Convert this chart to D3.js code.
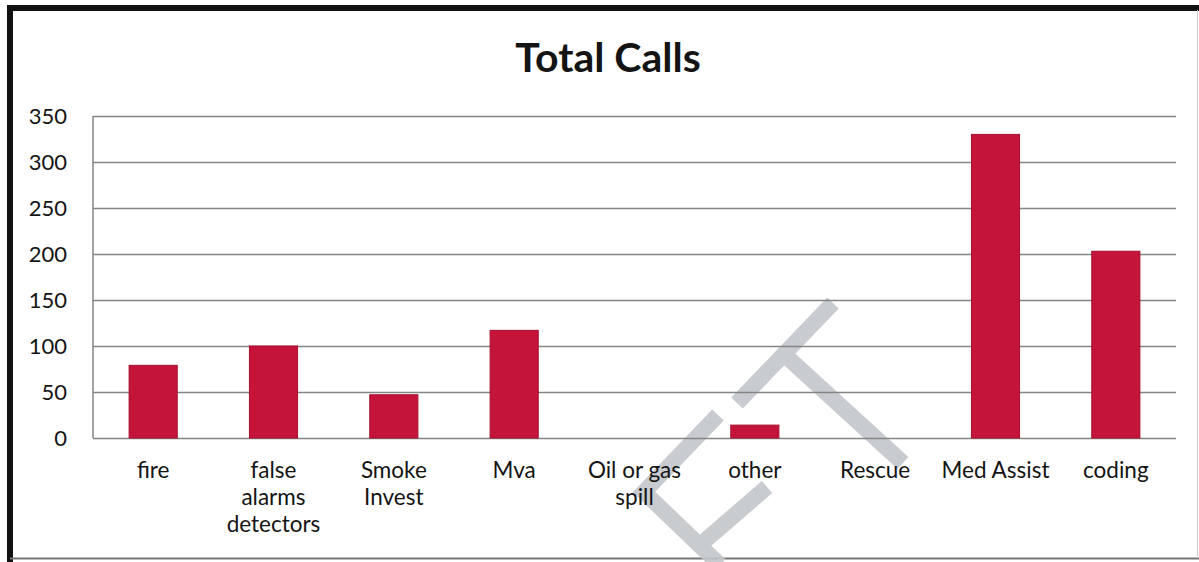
<!DOCTYPE html>
<html><head><meta charset="utf-8">
<script src="https://cdn.jsdelivr.net/npm/d3@7"></script>
<style>html,body{margin:0;padding:0;background:#fff;}svg{display:block;}</style>
</head><body>
<svg id="c" width="1199" height="562"></svg>
<script>
const categories = ["fire","false alarms detectors","Smoke Invest","Mva","Oil or gas spill","other","Rescue","Med Assist","coding"];
const labelLines = [["fire"],["false","alarms","detectors"],["Smoke","Invest"],["Mva"],["Oil or gas","spill"],["other"],["Rescue"],["Med Assist"],["coding"]];
const values = [79, 100, 47, 117, 0, 14, 0, 330, 203];
const yTicks = [0,50,100,150,200,250,300,350];
const title = "Total Calls";

const svg = d3.select("#c");
const W = 1199, H = 562;
const m = {left: 93, right: 1176, top: 116, bottom: 438};
const font = "Lato, 'Open Sans', sans-serif";

const x = d3.scaleBand().domain(categories).range([m.left, m.right]).paddingInner(0.6).paddingOuter(0.3);
const y = d3.scaleLinear().domain([0, 350]).range([m.bottom, m.top]);

// frame
svg.append("rect").attr("x",0).attr("y",0).attr("width",W).attr("height",H).attr("fill","#fff");
svg.append("line").attr("x1",7).attr("x2",W).attr("y1",8).attr("y2",8).attr("stroke","#111").attr("stroke-width",6);
svg.append("line").attr("x1",10).attr("x2",10).attr("y1",5).attr("y2",H).attr("stroke","#111").attr("stroke-width",6);
svg.append("line").attr("x1",10).attr("x2",W).attr("y1",558.5).attr("y2",558.5).attr("stroke","#777").attr("stroke-width",2);
svg.append("line").attr("x1",1197.5).attr("x2",1197.5).attr("y1",10).attr("y2",558).attr("stroke","#ccc").attr("stroke-width",1);

// watermark (behind)
const wm = svg.append("g").attr("fill","none").attr("stroke","#c3c6ca").attr("stroke-width",16).attr("stroke-linecap","butt").attr("opacity",0.9);
wm.append("path").attr("d","M833,303 L737,403 M787,357 L903,463");
wm.append("path").attr("d","M718,415 L644,492 L720,565 M767,487 L700,545");

// gridlines
const yAxis = d3.axisLeft(y).tickValues(yTicks).tickSize(-(m.right - m.left)).tickPadding(26);
const ga = svg.append("g").attr("transform",`translate(${m.left},0)`).call(yAxis);
ga.selectAll(".tick line").attr("stroke","#858585").attr("stroke-width",1.6);
ga.selectAll(".tick text").attr("font-family",font).attr("font-size",22).attr("fill","#141414");
ga.select(".domain").remove();
svg.append("line").attr("x1",m.left).attr("x2",m.left).attr("y1",m.top).attr("y2",m.bottom).attr("stroke","#858585").attr("stroke-width",1.5);

// bars
svg.append("g").selectAll("rect").data(values).join("rect")
  .attr("x",(d,i)=>x(categories[i]))
  .attr("width",x.bandwidth())
  .attr("y",d=>y(d))
  .attr("height",d=>y(0)-y(d))
  .attr("fill","#c5143a")
  .attr("stroke","#a50f2e").attr("stroke-width",1);

// category labels
const lg = svg.append("g").attr("font-family",font).attr("font-size",22.5).attr("fill","#141414").attr("text-anchor","middle");
categories.forEach((c,i)=>{
  const t = lg.append("text").attr("x", x(c)+x.bandwidth()/2).attr("y",477);
  labelLines[i].forEach((ln,j)=>{
    t.append("tspan").attr("x", x(c)+x.bandwidth()/2).attr("y",478+27*j).text(ln);
  });
});

// title
svg.append("text").attr("x",608).attr("y",72).attr("text-anchor","middle")
  .attr("font-family",font).attr("font-weight",700).attr("font-size",41).attr("fill","#141414").text(title);
</script>
</body></html>
